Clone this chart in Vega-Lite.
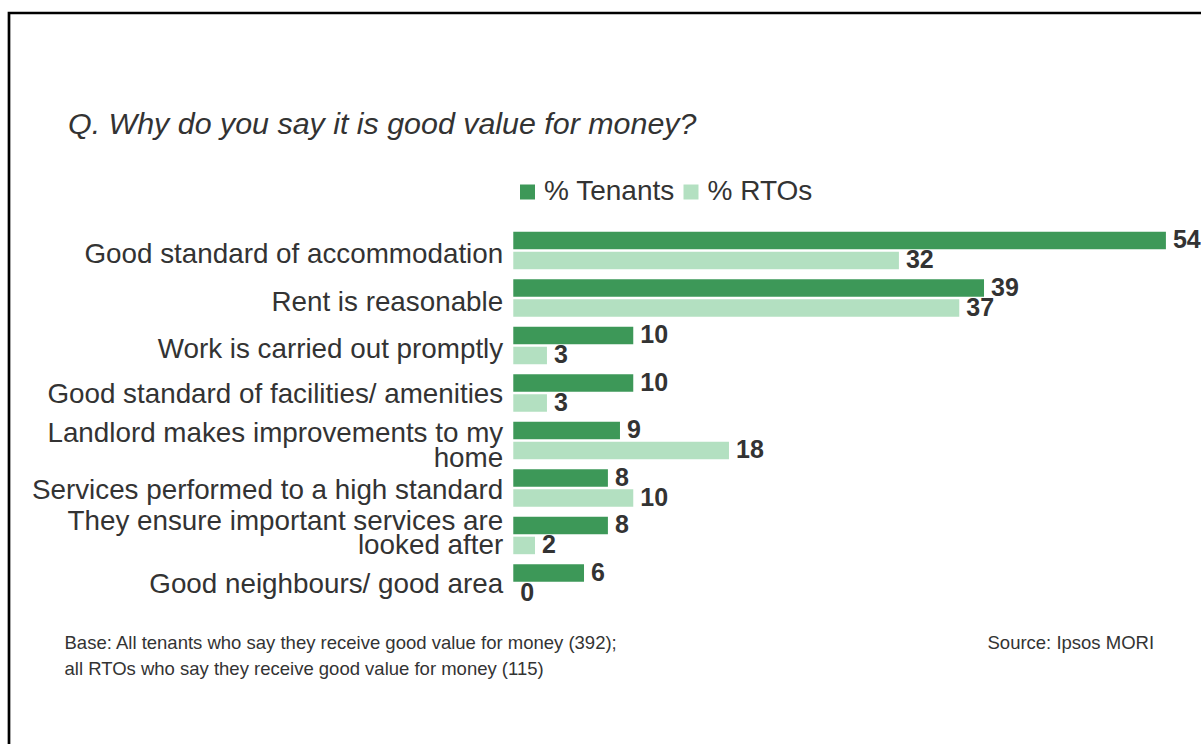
{
  "$schema": "https://vega.github.io/schema/vega-lite/v6.json",
  "width": 1200,
  "height": 740,
  "autosize": {"type": "none"},
  "padding": {"left": 9, "top": 13, "right": -8, "bottom": -9},
  "background": "white",
  "title": {
    "text": "Q. Why do you say it is good value for money?",
    "anchor": "start",
    "frame": "group",
    "orient": "top",
    "offset": -150.95,
    "dx": 59,
    "baseline": "alphabetic",
    "font": "Liberation Sans",
    "fontSize": 30.4,
    "fontStyle": "italic",
    "fontWeight": "normal",
    "color": "#333333"
  },
  "data": {
    "values": [
      {"reason": "Good standard of accommodation", "series": "% Tenants", "pct": 54.07, "label": 54},
      {"reason": "Good standard of accommodation", "series": "% RTOs", "pct": 31.95, "label": 32},
      {"reason": "Rent is reasonable", "series": "% Tenants", "pct": 39.0, "label": 39},
      {"reason": "Rent is reasonable", "series": "% RTOs", "pct": 36.95, "label": 37},
      {"reason": "Work is carried out promptly", "series": "% Tenants", "pct": 9.94, "label": 10},
      {"reason": "Work is carried out promptly", "series": "% RTOs", "pct": 2.79, "label": 3},
      {"reason": "Good standard of facilities/ amenities", "series": "% Tenants", "pct": 9.94, "label": 10},
      {"reason": "Good standard of facilities/ amenities", "series": "% RTOs", "pct": 2.79, "label": 3},
      {"reason": "Landlord makes improvements to my home", "series": "% Tenants", "pct": 8.84, "label": 9},
      {"reason": "Landlord makes improvements to my home", "series": "% RTOs", "pct": 17.87, "label": 18},
      {"reason": "Services performed to a high standard", "series": "% Tenants", "pct": 7.84, "label": 8},
      {"reason": "Services performed to a high standard", "series": "% RTOs", "pct": 9.94, "label": 10},
      {"reason": "They ensure important services are looked after", "series": "% Tenants", "pct": 7.84, "label": 8},
      {"reason": "They ensure important services are looked after", "series": "% RTOs", "pct": 1.8, "label": 2},
      {"reason": "Good neighbours/ good area", "series": "% Tenants", "pct": 5.86, "label": 6},
      {"reason": "Good neighbours/ good area", "series": "% RTOs", "pct": 0, "label": 0}
    ]
  },
  "encoding": {
    "y": {
      "field": "reason",
      "type": "nominal",
      "sort": null,
      "scale": {"range": [213.7, 593.7], "paddingInner": 0.2105, "paddingOuter": 0.10525, "align": 0.5},
      "axis": {
        "orient": "left",
        "domain": false,
        "ticks": false,
        "tickSize": 0,
        "grid": false,
        "labelPadding": -493.7,
        "labelAlign": "right",
        "labelBaseline": "middle",
        "labelLimit": 0,
        "labelOverlap": false,
        "labelFont": "Liberation Sans",
        "labelFontSize": 27.8,
        "labelColor": "#333333",
        "labelLineHeight": 24.5,
        "labelOffset": {"expr": "datum.value == 'Good standard of accommodation' ? 5 : datum.value == 'Rent is reasonable' ? 5.5 : datum.value == 'Work is carried out promptly' ? 5 : datum.value == 'Good standard of facilities/ amenities' ? 2 : datum.value == 'Landlord makes improvements to my home' ? -6 : datum.value == 'Services performed to a high standard' ? 3 : datum.value == 'They ensure important services are looked after' ? -13.5 : 2"},
        "labelExpr": "datum.value == 'Landlord makes improvements to my home' ? ['Landlord makes improvements to my', 'home'] : datum.value == 'They ensure important services are looked after' ? ['They ensure important services are', 'looked after'] : datum.value",
        "title": "Source: Ipsos MORI",
        "titleX": 978,
        "titleY": 635,
        "titleAngle": 0,
        "titleAlign": "left",
        "titleBaseline": "alphabetic",
        "titleFont": "Liberation Sans",
        "titleFontSize": 18.5,
        "titleFontWeight": "normal",
        "titleColor": "#333333"
      }
    },
    "yOffset": {
      "field": "series",
      "type": "nominal",
      "sort": ["% Tenants", "% RTOs"],
      "scale": {"paddingInner": 0.125, "paddingOuter": 0}
    },
    "x": {
      "field": "pct",
      "type": "quantitative",
      "scale": {"domain": [-41.78, 57.64], "nice": false, "zero": false},
      "axis": {
        "orient": "top",
        "domain": false,
        "ticks": false,
        "labels": false,
        "grid": false,
        "title": ["Base: All tenants who say they receive good value for money (392);", "all RTOs who say they receive good value for money (115)"],
        "titleX": 55,
        "titleY": 635,
        "titleAngle": 0,
        "titleAlign": "left",
        "titleAnchor": "start",
        "titleBaseline": "alphabetic",
        "titleLineHeight": 26,
        "titleFont": "Liberation Sans",
        "titleFontSize": 18.5,
        "titleFontWeight": "normal",
        "titleColor": "#333333"
      }
    }
  },
  "layer": [
    {
      "mark": {"type": "bar"},
      "encoding": {
        "x2": {"datum": 0},
        "color": {
          "field": "series",
          "type": "nominal",
          "scale": {"domain": ["% Tenants", "% RTOs"], "range": ["#3d9858", "#b3e0c1"]},
          "legend": {
            "orient": "none",
            "legendX": 504.5,
            "legendY": 165,
            "direction": "horizontal",
            "title": null,
            "symbolType": "square",
            "symbolSize": 225,
            "symbolStrokeWidth": 0,
            "labelFont": "Liberation Sans",
            "labelFontSize": 28,
            "labelColor": "#333333",
            "labelOffset": 2.5,
            "columnPadding": 1.5,
            "padding": 0,
            "offset": 0,
            "encode": {
              "symbols": {
                "update": {
                  "fill": {"signal": "datum.value === '% RTOs' ? '#cdf7d0' : '#3d9858'"}
                }
              }
            }
          }
        }
      }
    },
    {
      "mark": {
        "type": "text",
        "align": "left",
        "baseline": "middle",
        "dx": 7,
        "font": "Liberation Sans",
        "fontSize": 25,
        "fontWeight": "bold",
        "color": "#333333"
      },
      "encoding": {
        "text": {"field": "label", "type": "quantitative", "format": "d"}
      }
    }
  ],
  "config": {"view": {"stroke": "#000000", "strokeWidth": 2.7}}
}
